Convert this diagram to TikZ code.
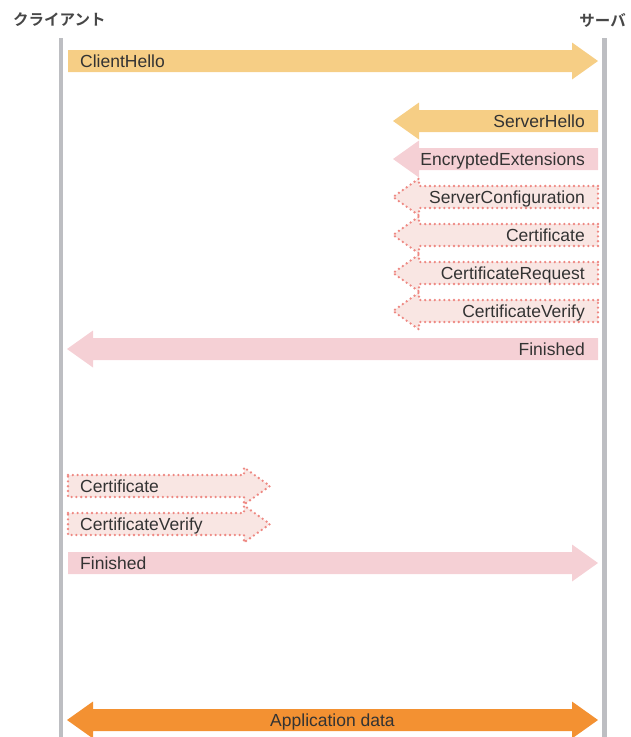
\documentclass[tikz,border=0pt]{standalone}
\usepackage{fontspec}
\setmainfont{Liberation Sans}
\newfontfamily\jpfont{Noto Sans CJK JP}[BoldFont={Noto Sans CJK JP Bold}]

\definecolor{lifegray}{HTML}{BDBEC2}
\definecolor{helloyellow}{HTML}{F6CE85}
\definecolor{finpink}{HTML}{F5D0D5}
\definecolor{optfill}{HTML}{F9E6E3}
\definecolor{optdot}{HTML}{EE8882}
\definecolor{apporange}{HTML}{F39132}
\definecolor{msgtext}{HTML}{333333}

\tikzset{
  hello/.style={fill=helloyellow},
  plain/.style={fill=finpink},
  optional/.style={fill=optfill, draw=optdot, line width=2.6pt, line cap=round, dash pattern=on 0pt off 4.8pt},
  appdata/.style={fill=apporange},
  lifeline/.style={draw=lifegray, line width=4.5pt},
}

% block arrows: style, tail x, tip x, y
\newcommand{\toserver}[4]{\path[#1] (#2,#4-11) -- (#3-26,#4-11) -- (#3-26,#4-18.5) -- (#3,#4) -- (#3-26,#4+18.5) -- (#3-26,#4+11) -- (#2,#4+11) -- cycle;}
\newcommand{\toclient}[4]{\path[#1] (#2,#4-11) -- (#3+26,#4-11) -- (#3+26,#4-18.5) -- (#3,#4) -- (#3+26,#4+18.5) -- (#3+26,#4+11) -- (#2,#4+11) -- cycle;}
\newcommand{\bothways}[4]{\path[#1] (#2,#4) -- (#2+26,#4-18.5) -- (#2+26,#4-11) -- (#3-26,#4-11) -- (#3-26,#4-18.5) -- (#3,#4) -- (#3-26,#4+18.5) -- (#3-26,#4+11) -- (#2+26,#4+11) -- (#2+26,#4+18.5) -- cycle;}

\begin{document}
\begin{tikzpicture}[x=1pt,y=-1pt]
      \useasboundingbox (0,0) rectangle (630,737);

      % lifelines
      \coordinate (ctop) at (61,38);
      \coordinate (cbot) at (61,737);
      \coordinate (stop) at (604.5,38);
      \coordinate (sbot) at (604.5,737);
      \draw[lifeline] (ctop) -- (cbot);
      \draw[lifeline] (stop) -- (sbot);

      \begin{scope}[every node/.style={text=msgtext!90, inner sep=0pt, font=\jpfont\bfseries\fontsize{15.5}{15.5}\selectfont}]
        \node[anchor=west] (client) at (13,20) {クライアント};
        \node[anchor=east] (server) at (626,20) {サーバ};
      \end{scope}

      % message arrows
      \toserver{hello}{68}{598}{61}
      \toclient{hello}{598}{393}{121}
      \toclient{plain}{598}{393}{159}
      \toclient{optional}{598}{393}{197}
      \toclient{optional}{598}{393}{235}
      \toclient{optional}{598}{393}{273}
      \toclient{optional}{598}{393}{311}
      \toclient{plain}{598}{67}{349}
      \toserver{optional}{68}{270}{486}
      \toserver{optional}{68}{270}{524}
      \toserver{plain}{68}{598}{563}
      \bothways{appdata}{67}{598}{720}

      \begin{scope}[every node/.style={text=msgtext, inner sep=0pt, text height=12pt, text depth=0pt, font=\fontsize{17.5}{17.5}\selectfont}]
        \node[anchor=west] (1)  at (80,61)  {ClientHello};
        \node[anchor=east] (2)  at (585,121) {ServerHello};
        \node[anchor=east] (3)  at (585,159) {EncryptedExtensions};
        \node[anchor=east] (4)  at (585,197) {ServerConfiguration};
        \node[anchor=east] (5)  at (585,235) {Certificate};
        \node[anchor=east] (6)  at (585,273) {CertificateRequest};
        \node[anchor=east] (7)  at (585,311) {CertificateVerify};
        \node[anchor=east] (8)  at (585,349) {Finished};
        \node[anchor=west] (9)  at (80,486) {Certificate};
        \node[anchor=west] (10) at (80,524) {CertificateVerify};
        \node[anchor=west] (11) at (80,563) {Finished};
        \node (12) at (332.5,720) {Application data};
      \end{scope}

    \end{tikzpicture}
\end{document}
